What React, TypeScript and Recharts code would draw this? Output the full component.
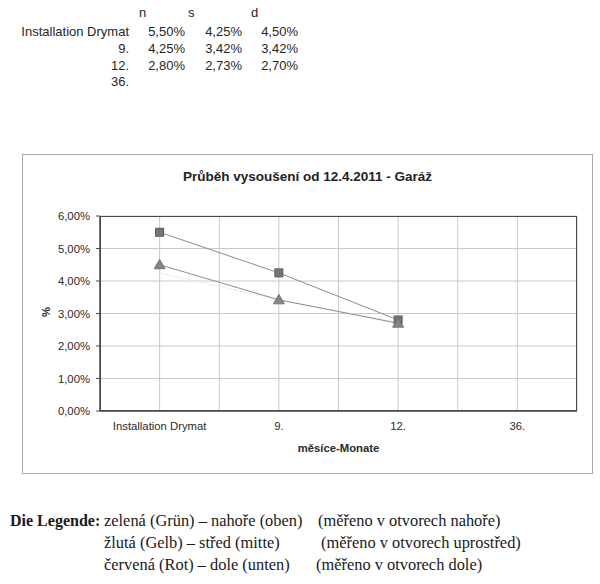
import React from "react";
import { LineChart, Line, XAxis, YAxis, CartesianGrid, Label } from "recharts";

// values (n = nahoře, s = střed, d = dole)
const categories = ["Installation Drymat", "9.", "12.", "36."];
const seriesN: (number | null)[] = [5.5, 4.25, 2.8, null];
const seriesS: (number | null)[] = [4.25, 3.42, 2.73, null];
const seriesD: (number | null)[] = [4.5, 3.42, 2.7, null];
const yTicks = [0, 1, 2, 3, 4, 5, 6];
// vertical gridlines: every half category (band edges + centres)
const gridTicks = [0, 0.5, 1, 1.5, 2, 2.5, 3, 3.5, 4];

const legendRows = [
  ["zelená (Grün) – nahoře (oben)", "(měřeno v otvorech nahoře)"],
  ["žlutá (Gelb) – střed (mitte)", "(měřeno v otvorech uprostřed)"],
  ["červená (Rot) – dole (unten)", "(měřeno v otvorech dole)"],
];

const data = categories.map((cat, i) => ({
  cat,
  pos: i + 0.5,
  n: seriesN[i],
  s: seriesS[i],
  d: seriesD[i],
}));

const W = 600;
const H = 584;
const PLOT = { left: 100, top: 216, right: 577, bottom: 411 };
const Y_AXIS_W = 78;
const X_AXIS_H = 45;

const SANS = "'Liberation Sans', Arial, sans-serif";
const SERIF = "'Liberation Serif', 'Times New Roman', serif";

const pct = (v: number | null) => (v == null ? "" : v.toFixed(2).replace(".", ",") + "%");

const SquareDot = (props: any) => {
  const { cx, cy, index } = props;
  if (cx == null || cy == null || props.value == null) return <g key={index} />;
  return <rect key={index} x={cx - 4} y={cy - 4} width={8} height={8} fill="#74747e" stroke="#5a5a62" strokeWidth={1} />;
};

const TriangleDot = (props: any) => {
  const { cx, cy, index } = props;
  if (cx == null || cy == null || props.value == null) return <g key={index} />;
  return (
    <polygon
      key={index}
      points={`${cx},${cy - 5.5} ${cx + 5.5},${cy + 4} ${cx - 5.5},${cy + 4}`}
      fill="#84848e"
      stroke="#6a6a72"
      strokeWidth={0.8}
    />
  );
};

function DataTable() {
  const rowTop = [24, 41, 58, 74];
  const cols = [
    { vals: seriesN, right: 185, head: "n", headLeft: 139 },
    { vals: seriesS, right: 242, head: "s", headLeft: 188 },
    { vals: seriesD, right: 298, head: "d", headLeft: 251 },
  ];
  const base: React.CSSProperties = {
    position: "absolute",
    fontFamily: SANS,
    fontSize: 13,
    lineHeight: "16px",
    color: "#262626",
    whiteSpace: "nowrap",
  };
  return (
    <>
      {cols.map((c) => (
        <div key={c.head} style={{ ...base, left: c.headLeft, top: 5 }}>
          {c.head}
        </div>
      ))}
      {categories.map((cat, r) => (
        <React.Fragment key={cat}>
          <div style={{ ...base, right: W - 129, top: rowTop[r], textAlign: "right" }}>{cat}</div>
          {cols.map((c) => (
            <div key={c.head} style={{ ...base, right: W - c.right, top: rowTop[r], textAlign: "right" }}>
              {pct(c.vals[r])}
            </div>
          ))}
        </React.Fragment>
      ))}
    </>
  );
}

function Legend() {
  const tops = [511, 533, 555];
  const base: React.CSSProperties = {
    position: "absolute",
    fontFamily: SERIF,
    fontSize: 16.4,
    lineHeight: "20px",
    color: "#1a1a1a",
    whiteSpace: "nowrap",
  };
  const secondLeft = [318, 321, 316];
  return (
    <>
      <div style={{ ...base, left: 10, top: tops[0], fontWeight: "bold", fontSize: 16 }}>Die Legende:</div>
      {legendRows.map((row, i) => (
        <React.Fragment key={i}>
          <div style={{ ...base, left: 104, top: tops[i] }}>{row[0]}</div>
          <div style={{ ...base, left: secondLeft[i], top: tops[i] }}>{row[1]}</div>
        </React.Fragment>
      ))}
    </>
  );
}

export default function App() {
  return (
    <div style={{ position: "absolute", left: 0, top: 0, width: W, height: H, background: "#fff", overflow: "hidden" }}>
      <DataTable />

      {/* outer chart frame */}
      <div
        style={{
          position: "absolute",
          left: 22,
          top: 154,
          width: 571,
          height: 320,
          border: "1px solid #a8a8a8",
          boxSizing: "border-box",
        }}
      />
      <div
        style={{
          position: "absolute",
          left: 22,
          width: 571,
          top: 168,
          textAlign: "center",
          fontFamily: SANS,
          fontWeight: "bold",
          fontSize: 13.5,
          lineHeight: "18px",
          color: "#222",
        }}
      >
        Průběh vysoušení od 12.4.2011 - Garáž
      </div>

      <div style={{ position: "absolute", left: 0, top: 0 }}>
        <LineChart
          width={W}
          height={H}
          data={data}
          margin={{
            top: PLOT.top,
            right: W - PLOT.right,
            left: PLOT.left - Y_AXIS_W,
            bottom: H - PLOT.bottom - X_AXIS_H,
          }}
        >
          <CartesianGrid xAxisId="grid" stroke="#c9c9c9" strokeWidth={1} />
          <XAxis
            dataKey="cat"
            type="category"
            scale="band"
            height={X_AXIS_H}
            axisLine={{ stroke: "#4a4a4a", strokeWidth: 1.5 }}
            tickLine={false}
            tickMargin={5}
            tick={{ fontSize: 11.3, fill: "#2a2a2a", fontFamily: SANS }}
            interval={0}
          >
            <Label
              value="měsíce-Monate"
              position="insideBottom"
              offset={4}
              style={{ fontSize: 11.3, fontWeight: "bold", fill: "#2a2a2a", fontFamily: SANS }}
            />
          </XAxis>
          <XAxis xAxisId="grid" dataKey="pos" type="number" domain={[0, 4]} ticks={gridTicks} hide />
          <YAxis
            width={Y_AXIS_W}
            domain={[0, 6]}
            ticks={yTicks}
            tickFormatter={(v: number) => pct(v)}
            axisLine={{ stroke: "#4a4a4a", strokeWidth: 1.5 }}
            tickLine={{ stroke: "#4a4a4a" }}
            tickSize={4}
            tickMargin={6}
            tick={{ fontSize: 11.3, fill: "#2a2a2a", fontFamily: SANS }}
          />
          <Line dataKey="s" stroke="#efefdc" strokeWidth={1} dot={false} isAnimationActive={false} />
          <Line dataKey="n" stroke="#8c8c92" strokeWidth={1} dot={SquareDot} activeDot={false} isAnimationActive={false} />
          <Line dataKey="d" stroke="#8c8c92" strokeWidth={1} dot={TriangleDot} activeDot={false} isAnimationActive={false} />
        </LineChart>
      </div>

      {/* plot area border (top/right edges) */}
      <div
        style={{
          position: "absolute",
          left: PLOT.left,
          top: PLOT.top,
          width: PLOT.right - PLOT.left,
          height: PLOT.bottom - PLOT.top,
          border: "1.5px solid #4a4a4a",
          boxSizing: "border-box",
          pointerEvents: "none",
        }}
      />
      <div
        style={{
          position: "absolute",
          left: 41,
          top: 305,
          fontFamily: SANS,
          fontWeight: "bold",
          fontSize: 11.3,
          lineHeight: "14px",
          color: "#2a2a2a",
          transform: "rotate(-90deg)",
        }}
      >
        %
      </div>

      <Legend />
    </div>
  );
}
